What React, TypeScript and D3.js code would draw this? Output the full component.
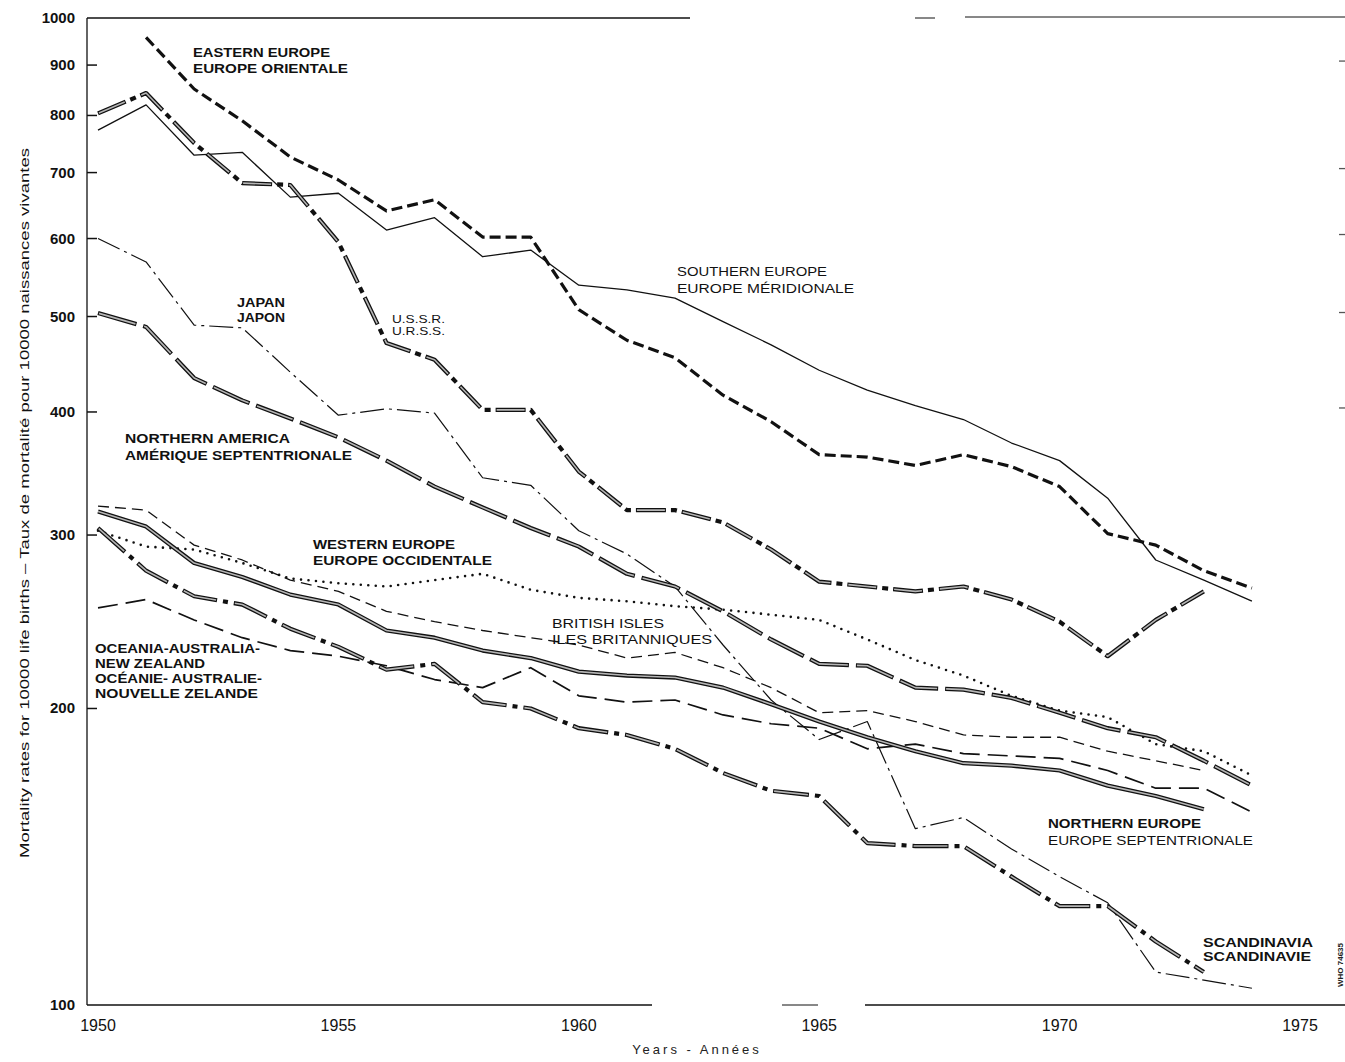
import React from 'react';
import * as d3 from 'd3';

// ---------- DATA ----------
const years = [1950, 1951, 1952, 1953, 1954, 1955, 1956, 1957, 1958, 1959, 1960, 1961, 1962,
  1963, 1964, 1965, 1966, 1967, 1968, 1969, 1970, 1971, 1972, 1973, 1974];

const easternEurope = [null, 960, 851, 790, 726, 688, 640, 657, 602, 602, 508, 473, 454, 416, 391, 362, 360, 353, 362, 352, 336, 301, 293, 276, 265];
const ussr = [804, 843, 750, 683, 680, 595, 470, 452, 402, 402, 348, 318, 318, 309, 290, 269, 266, 263, 266, 258, 245, 226, 246, 263, null];
const southernEurope = [773, 820, 729, 734, 661, 667, 612, 630, 575, 584, 538, 532, 522, 494, 468, 441, 421, 406, 393, 372, 357, 327, 283, 270, 257];
const japan = [600, 568, 490, 487, 439, 397, 403, 399, 343, 337, 303, 287, 266, 232, 204, 186, 194, 151, 155, 144, 135, 127, 108, 106, 104];
const northernAmerica = [504, 488, 433, 411, 394, 377, 357, 336, 320, 305, 292, 274, 266, 251, 235, 222, 221, 210, 209, 205, 198, 191, 187, 177, 167];
const westernEurope = [303, 292, 290, 281, 271, 268, 266, 270, 274, 264, 259, 257, 254, 252, 249, 246, 235, 224, 216, 206, 199, 196, 184, 181, 171];
const britishIsles = [321, 318, 293, 283, 270, 263, 251, 245, 240, 236, 232, 225, 228, 220, 210, 198, 199, 194, 188, 187, 187, 181, 177, 173, null];
const northernEurope = [317, 306, 281, 272, 261, 255, 240, 236, 229, 225, 218, 216, 215, 210, 202, 194, 187, 181, 176, 175, 173, 167, 163, 158, null];
const oceania = [253, 258, 246, 236, 229, 226, 221, 214, 210, 220, 206, 203, 204, 197, 193, 191, 182, 184, 180, 179, 178, 173, 166, 166, 157];
const scandinavia = [305, 276, 260, 255, 241, 231, 219, 222, 203, 200, 191, 188, 182, 172, 165, 163, 146, 145, 145, 135, 126, 126, 116, 108, null];

const yTickValues = [100, 200, 300, 400, 500, 600, 700, 800, 900, 1000];
const yTickLabels = ['100', '200', '300', '400', '500', '600', '700', '800', '900', '1000'];
const yRightTicks = [400, 500, 600, 700, 900];
const xTickValues = [1950, 1955, 1960, 1965, 1970, 1975];
const xTickLabels = ['1950', '1955', '1960', '1965', '1970', '1975'];

// ---------- STYLES ----------
type Style = {
  kind: 'plain' | 'hollow';
  width: number;
  dash?: string;
  inner?: string;
  innerWidth?: number;
  innerColor?: string;
  cap?: 'butt' | 'round';
};

const seriesList: { key: string; values: (number | null)[]; style: Style }[] = [
  { key: 'southern', values: southernEurope, style: { kind: 'plain', width: 1.3 } },
  { key: 'japan', values: japan, style: { kind: 'plain', width: 1.2, dash: '24 5 3 5' } },
  { key: 'british', values: britishIsles, style: { kind: 'plain', width: 1.3, dash: '11 6' } },
  { key: 'oceania', values: oceania, style: { kind: 'plain', width: 1.7, dash: '20 8' } },
  { key: 'western', values: westernEurope, style: { kind: 'plain', width: 2.6, dash: '0 7.5', cap: 'round' } },
  { key: 'eastern', values: easternEurope, style: { kind: 'plain', width: 3.2, dash: '11 5' } },
  { key: 'northernEurope', values: northernEurope, style: { kind: 'hollow', width: 4.2, innerWidth: 1.6, innerColor: '#b5b5b5' } },
  { key: 'northernAmerica', values: northernAmerica, style: { kind: 'hollow', width: 4.2, dash: '40 7', inner: '38 9', innerWidth: 1.6, innerColor: '#b5b5b5' } },
  { key: 'scandinavia', values: scandinavia, style: { kind: 'hollow', width: 4.2, dash: '36 6 5 6', inner: '34 19', innerWidth: 1.6, innerColor: '#b5b5b5' } },
  { key: 'ussr', values: ussr, style: { kind: 'hollow', width: 4.2, dash: '30 5 6 5', inner: '28 18', innerWidth: 1.6, innerColor: '#b5b5b5' } },
];

// labels (layout)
type Lab = { t: string; x: number; y: number; w: number; size: number; weight: number };
const labels: Lab[] = [
  { t: 'EASTERN EUROPE', x: 193, y: 57, w: 137, size: 13.5, weight: 700 },
  { t: 'EUROPE ORIENTALE', x: 193, y: 73, w: 155, size: 13.5, weight: 700 },
  { t: 'JAPAN', x: 237, y: 307, w: 48, size: 13, weight: 700 },
  { t: 'JAPON', x: 237, y: 322, w: 48, size: 13, weight: 700 },
  { t: 'U.S.S.R.', x: 392, y: 323, w: 53, size: 11.5, weight: 400 },
  { t: 'U.R.S.S.', x: 392, y: 335, w: 53, size: 11.5, weight: 400 },
  { t: 'SOUTHERN EUROPE', x: 677, y: 276, w: 150, size: 12.5, weight: 400 },
  { t: 'EUROPE MÉRIDIONALE', x: 677, y: 293, w: 177, size: 12.5, weight: 400 },
  { t: 'NORTHERN AMERICA', x: 125, y: 443, w: 165, size: 13.5, weight: 700 },
  { t: 'AMÉRIQUE SEPTENTRIONALE', x: 125, y: 460, w: 227, size: 13.5, weight: 700 },
  { t: 'WESTERN EUROPE', x: 313, y: 549, w: 142, size: 13.5, weight: 700 },
  { t: 'EUROPE OCCIDENTALE', x: 313, y: 565, w: 179, size: 13.5, weight: 700 },
  { t: 'BRITISH ISLES', x: 552, y: 628, w: 112, size: 13, weight: 400 },
  { t: 'ILES BRITANNIQUES', x: 552, y: 644, w: 160, size: 13, weight: 400 },
  { t: 'OCEANIA-AUSTRALIA-', x: 95, y: 653, w: 165, size: 13.5, weight: 700 },
  { t: 'NEW ZEALAND', x: 95, y: 668, w: 110, size: 13.5, weight: 700 },
  { t: 'OCÉANIE- AUSTRALIE-', x: 95, y: 683, w: 167, size: 13.5, weight: 700 },
  { t: 'NOUVELLE ZELANDE', x: 95, y: 698, w: 163, size: 13.5, weight: 700 },
  { t: 'NORTHERN EUROPE', x: 1048, y: 828, w: 153, size: 13.5, weight: 700 },
  { t: 'EUROPE SEPTENTRIONALE', x: 1048, y: 845, w: 205, size: 13.5, weight: 400 },
  { t: 'SCANDINAVIA', x: 1203, y: 947, w: 110, size: 13.5, weight: 700 },
  { t: 'SCANDINAVIE', x: 1203, y: 961, w: 108, size: 13.5, weight: 700 },
];

const W = 1345;
const H = 1062;

export default function App() {
  const x = d3.scaleLinear().domain([1950, 1975]).range([98, 1300]);
  const y = d3.scaleLog().domain([100, 1000]).range([1005, 20]);
  const axisX = 87;
  const yTop = 18;
  const yBottom = y(100);

  const line = d3
    .line<[number, number | null]>()
    .defined((d) => d[1] != null)
    .x((d) => x(d[0]))
    .y((d) => y(d[1] as number));

  const font = '"Liberation Sans", Arial, Helvetica, sans-serif';

  return (
    <svg
      width={W}
      height={H}
      style={{ position: 'absolute', left: 0, top: 0, background: '#fff' }}
      fontFamily={font}
    >
      <rect x={0} y={0} width={W} height={H} fill="#fff" />
      {/* frame */}
      <g stroke="#111" fill="none">
        <line x1={axisX} y1={yTop} x2={axisX} y2={yBottom} strokeWidth={1.3} />
        <line x1={axisX} y1={yTop} x2={690} y2={yTop} strokeWidth={1.3} />
        <line x1={915} y1={yTop} x2={935} y2={yTop} strokeWidth={1} />
        <line x1={965} y1={yTop - 1} x2={W} y2={yTop - 1} strokeWidth={1} />
        <line x1={axisX} y1={yBottom} x2={652} y2={yBottom} strokeWidth={1.3} />
        <line x1={782} y1={yBottom} x2={818} y2={yBottom} strokeWidth={1} />
        <line x1={865} y1={yBottom} x2={W} y2={yBottom} strokeWidth={1.3} />
      </g>
      {/* y ticks */}
      <g>
        {yTickValues.map((v, i) => (
          <g key={v}>
            {v !== 100 && v !== 1000 && (
              <line x1={axisX} x2={axisX + 10} y1={y(v)} y2={y(v)} stroke="#111" strokeWidth={1.5} />
            )}
            <text
              x={75}
              y={v === 1000 ? yTop + 5 : y(v) + 5}
              textAnchor="end"
              fontSize={15}
              fontWeight={700}
              fill="#111"
            >
              {yTickLabels[i]}
            </text>
          </g>
        ))}
        {yRightTicks.map((v) => (
          <line key={'r' + v} x1={W - 6} x2={W} y1={y(v) - 4} y2={y(v) - 4} stroke="#555" strokeWidth={1.3} />
        ))}
      </g>
      {/* x tick labels */}
      <g>
        {xTickValues.map((v, i) => (
          <text key={v} x={x(v)} y={1031} textAnchor="middle" fontSize={16} fill="#111">
            {xTickLabels[i]}
          </text>
        ))}
      </g>
      {/* axis titles */}
      <text x={697} y={1054} textAnchor="middle" fontSize={13} letterSpacing={3} fill="#222">
        Years - Années
      </text>
      <text
        transform="translate(29,503) rotate(-90)"
        textAnchor="middle"
        fontSize={13}
        fill="#111"
        textLength={710}
        lengthAdjust="spacingAndGlyphs"
      >
        Mortality rates for 10000 life births – Taux de mortalité pour 10000 naissances vivantes
      </text>
      <text transform="translate(1343,965) rotate(-90)" textAnchor="middle" fontSize={8} fontWeight={700} fill="#222">
        WHO 74635
      </text>
      {/* series */}
      <g fill="none" strokeLinejoin="round">
        {seriesList.map((s) => {
          const data = years.map((yr, i) => [yr, s.values[i]] as [number, number | null]);
          const d = line(data) || '';
          const st = s.style;
          if (st.kind === 'plain') {
            return (
              <path
                key={s.key}
                d={d}
                stroke="#111"
                strokeWidth={st.width}
                strokeDasharray={st.dash}
                strokeLinecap={st.cap || 'butt'}
              />
            );
          }
          return (
            <g key={s.key}>
              <path d={d} stroke="#111" strokeWidth={st.width} strokeDasharray={st.dash} />
              <path
                d={d}
                stroke={st.innerColor}
                strokeWidth={st.innerWidth}
                strokeDasharray={st.inner}
                strokeDashoffset={st.inner ? -1 : undefined}
              />
            </g>
          );
        })}
      </g>
      {/* labels */}
      <g fill="#111">
        {labels.map((l) => (
          <text
            key={l.t}
            x={l.x}
            y={l.y}
            fontSize={l.size}
            fontWeight={l.weight}
            textLength={l.w}
            lengthAdjust="spacingAndGlyphs"
          >
            {l.t}
          </text>
        ))}
      </g>
    </svg>
  );
}
